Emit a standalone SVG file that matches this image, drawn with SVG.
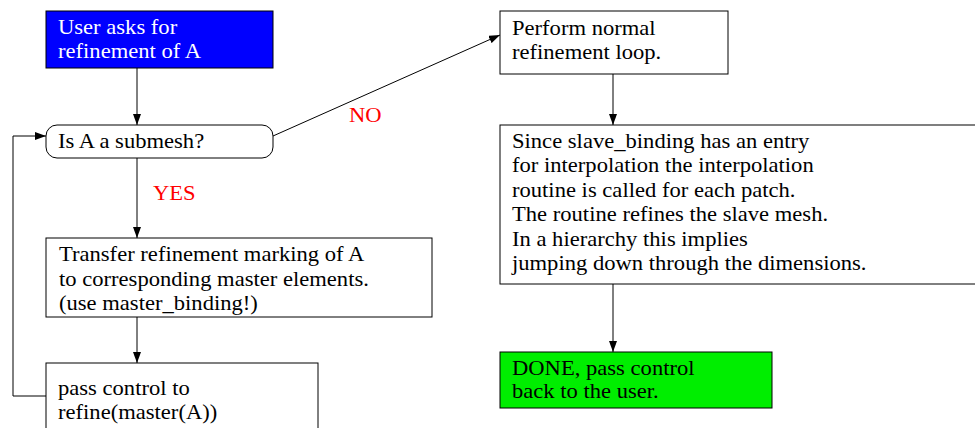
<svg xmlns="http://www.w3.org/2000/svg" width="975" height="428" viewBox="0 0 975 428">
<style>
text{font-family:"Liberation Serif","Times New Roman",serif;font-size:20px;fill:#000}
.box{fill:#fff;stroke:#000;stroke-width:1}
.lbl{fill:#ff0000}
.w{fill:#fff}
.c{fill:none;stroke:#000;stroke-width:1}
</style>
<defs>
<marker id="ah" markerWidth="11" markerHeight="8" refX="11" refY="4" orient="auto" markerUnits="userSpaceOnUse">
<path d="M0,0 L11,4 L0,8 Z" fill="#000"/>
</marker>
</defs>
<g id="connectors">
<line class="c" x1="137" y1="68" x2="137" y2="125" marker-end="url(#ah)"/>
<line class="c" x1="137" y1="158" x2="137" y2="238" marker-end="url(#ah)"/>
<line class="c" x1="137" y1="317" x2="137" y2="363" marker-end="url(#ah)"/>
<polyline class="c" points="46,396 13,396 13,136 46,136" marker-end="url(#ah)"/>
<line class="c" x1="273" y1="136" x2="500" y2="35" marker-end="url(#ah)"/>
<line class="c" x1="613" y1="74" x2="613" y2="125" marker-end="url(#ah)"/>
<line class="c" x1="613" y1="284" x2="613" y2="352" marker-end="url(#ah)"/>
<g transform="translate(153,0) scale(1.13,1) translate(-153,0)"><text class="lbl" x="153" y="200">YES</text></g>
<g transform="translate(349,0) scale(1.13,1) translate(-349,0)"><text class="lbl" x="349" y="122">NO</text></g>
</g>
<g id="start">
<rect x="46" y="11" width="227" height="57" fill="#0000ff" stroke="#000"/>
<g transform="translate(58,0) scale(1.13,1) translate(-58,0)">
<text class="w" x="58" y="34.5">User asks for</text>
<text class="w" x="58" y="58.5">refinement of A</text>
</g>
</g>
<g id="decision">
<rect class="box" x="46" y="125" width="227" height="33" rx="11" ry="11"/>
<g transform="translate(58,0) scale(1.13,1) translate(-58,0)">
<text x="58" y="148">Is A a submesh?</text>
</g>
</g>
<g id="transfer">
<rect class="box" x="46" y="238" width="386" height="79"/>
<g transform="translate(59,0) scale(1.13,1) translate(-59,0)">
<text x="59" y="261.5">Transfer refinement marking of A</text>
<text x="59" y="286">to corresponding master elements.</text>
<text x="59" y="310.5">(use master_binding!)</text>
</g>
</g>
<g id="passcontrol">
<rect class="box" x="46" y="363" width="272" height="80"/>
<g transform="translate(58,0) scale(1.13,1) translate(-58,0)">
<text x="58" y="395">pass control to</text>
<text x="58" y="419">refine(master(A))</text>
</g>
</g>
<g id="perform">
<rect class="box" x="500" y="11" width="228" height="63"/>
<g transform="translate(512,0) scale(1.13,1) translate(-512,0)">
<text x="512" y="35">Perform normal</text>
<text x="512" y="59">refinement loop.</text>
</g>
</g>
<g id="since">
<rect class="box" x="500" y="125" width="490" height="159"/>
<g transform="translate(512,0) scale(1.13,1) translate(-512,0)">
<text x="512" y="148">Since slave_binding has an entry</text>
<text x="512" y="172.5">for interpolation the interpolation</text>
<text x="512" y="197">routine is called for each patch.</text>
<text x="512" y="221.5">The routine refines the slave mesh.</text>
<text x="512" y="246">In a hierarchy this implies</text>
<text x="512" y="270.5">jumping down through the dimensions.</text>
</g>
</g>
<g id="done">
<rect x="500" y="352" width="272" height="56" fill="#00ee00" stroke="#000"/>
<g transform="translate(512,0) scale(1.13,1) translate(-512,0)">
<text x="512" y="375">DONE, pass control</text>
<text x="512" y="398.5">back to the user.</text>
</g>
</g>
</svg>
